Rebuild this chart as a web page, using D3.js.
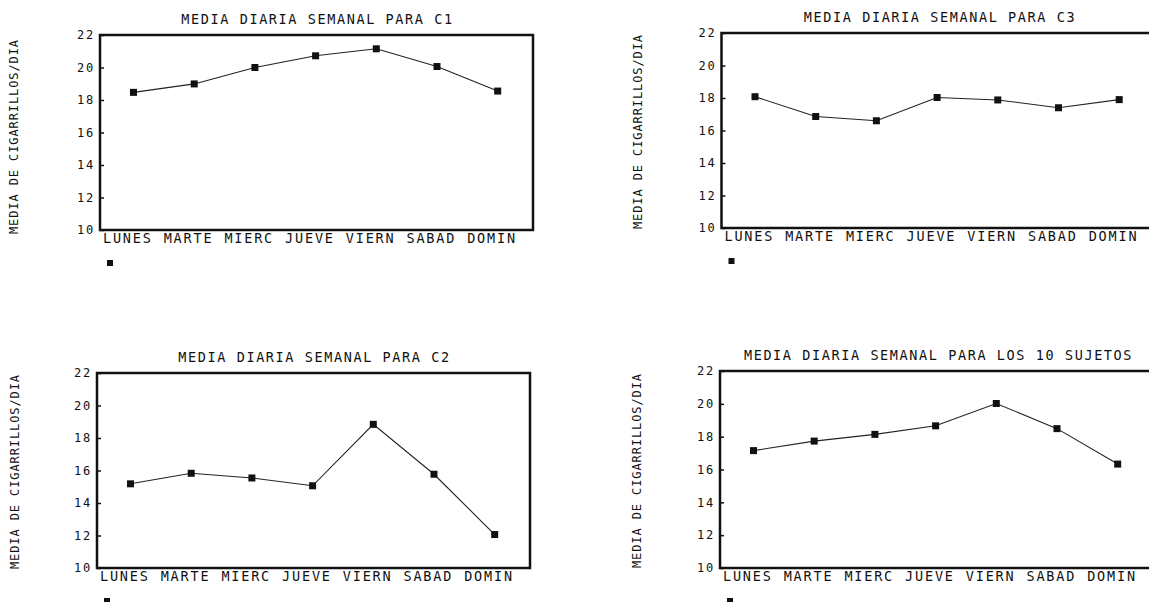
<!DOCTYPE html>
<html>
<head>
<meta charset="utf-8">
<script src="https://cdn.jsdelivr.net/npm/d3@7"></script>
<style>
  html, body { margin: 0; padding: 0; background: #fff; }
  svg { display: block; }
  text { font-family: "DejaVu Sans Mono", "Liberation Mono", monospace; fill: #111; }
</style>
</head>
<body>
<svg id="chart" width="1149" height="602"></svg>
<script>
// ---- Data ----
const days = ["LUNES", "MARTE", "MIERC", "JUEVE", "VIERN", "SABAD", "DOMIN"];
const yTicks = [10, 12, 14, 16, 18, 20, 22];
const yLabel = "MEDIA DE CIGARRILLOS/DIA";

const titleC1 = "MEDIA DIARIA SEMANAL PARA C1";
const titleC3 = "MEDIA DIARIA SEMANAL PARA C3";
const titleC2 = "MEDIA DIARIA SEMANAL PARA C2";
const titleAll = "MEDIA DIARIA SEMANAL PARA LOS 10 SUJETOS";

const valuesC1 = [18.47, 18.99, 20.0, 20.72, 21.15, 20.06, 18.55];
const valuesC3 = [18.08, 16.86, 16.6, 18.03, 17.88, 17.4, 17.9];
const valuesC2 = [15.18, 15.83, 15.54, 15.06, 18.84, 15.77, 12.06];
const valuesAll = [17.15, 17.73, 18.14, 18.66, 20.02, 18.49, 16.33];

// ---- Layout (positions only) ----
const panels = [
  { title: titleC1, values: valuesC1, left: 100,   top: 35,  width: 433, height: 195, ylabX: 14,   ylabDy: 4 },
  { title: titleC3, values: valuesC3, left: 721.5, top: 33,  width: 435, height: 195, ylabX: 638,  ylabDy: 1 },
  { title: titleC2, values: valuesC2, left: 97,    top: 373, width: 433, height: 195, ylabX: 14.5, ylabDy: 1 },
  { title: titleAll, values: valuesAll, left: 720, top: 371, width: 435, height: 197, ylabX: 637,  ylabDy: 1 }
];

const svg = d3.select("#chart");

panels.forEach(p => {
  const g = svg.append("g");
  const bottom = p.top + p.height;
  const step = 60.7;
  const x = d3.scalePoint().domain(days).range([p.left + 33.5, p.left + 33.5 + 6 * step]);
  const y = d3.scaleLinear().domain([10, 22]).range([bottom, p.top]);

  // Title
  g.append("text")
    .attr("x", p.left + p.width / 2 + 1)
    .attr("y", p.top - 11)
    .attr("text-anchor", "middle")
    .style("font-size", "13.5px")
    .style("letter-spacing", "1.6px")
    .text(p.title);

  // Y axis label (rotated)
  const cy = p.top + p.height / 2 + p.ylabDy;
  g.append("text")
    .attr("transform", `translate(${p.ylabX + 4},${cy}) rotate(-90)`)
    .attr("text-anchor", "middle")
    .style("font-size", "12px")
    .style("letter-spacing", "0.9px")
    .text(yLabel);

  // Y axis ticks (inward) via d3 axis
  const yAxis = d3.axisRight(y).tickValues(yTicks).tickSize(4).tickFormat("");
  const ya = g.append("g").attr("transform", `translate(${p.left},0)`).call(yAxis);
  ya.select(".domain").remove();
  ya.selectAll(".tick line").attr("stroke", "#111").attr("stroke-width", 1.5);

  g.selectAll("text.ytl").data(yTicks).enter().append("text")
    .attr("class", "ytl")
    .attr("x", p.left - 5)
    .attr("y", d => y(d))
    .attr("dy", "0.36em")
    .attr("text-anchor", "end")
    .style("font-size", "12px")
    .style("letter-spacing", "1.8px")
    .text(d => d);

  // Frame
  g.append("rect")
    .attr("x", p.left).attr("y", p.top)
    .attr("width", p.width).attr("height", p.height)
    .attr("fill", "none").attr("stroke", "#111").attr("stroke-width", 2.5);

  // Category labels
  g.selectAll("text.xtl").data(days).enter().append("text")
    .attr("class", "xtl")
    .attr("x", d => x(d) - 30.5)
    .attr("y", bottom + 13)
    .attr("text-anchor", "start")
    .style("font-size", "13.5px")
    .style("letter-spacing", "1.8px")
    .text(d => d);

  // Line
  const line = d3.line().x((d, i) => x(days[i])).y(d => y(d));
  g.append("path")
    .datum(p.values)
    .attr("d", line)
    .attr("fill", "none")
    .attr("stroke", "#222")
    .attr("stroke-width", 1.1);

  // Markers
  g.selectAll("rect.pt").data(p.values).enter().append("rect")
    .attr("class", "pt")
    .attr("x", (d, i) => x(days[i]) - 3.5)
    .attr("y", d => y(d) - 3.5)
    .attr("width", 7).attr("height", 7)
    .attr("fill", "#111");

  // Small square mark under each panel
  g.append("rect")
    .attr("x", p.left + 7).attr("y", bottom + 30)
    .attr("width", 6).attr("height", 6)
    .attr("fill", "#111");
});
</script>
</body>
</html>
